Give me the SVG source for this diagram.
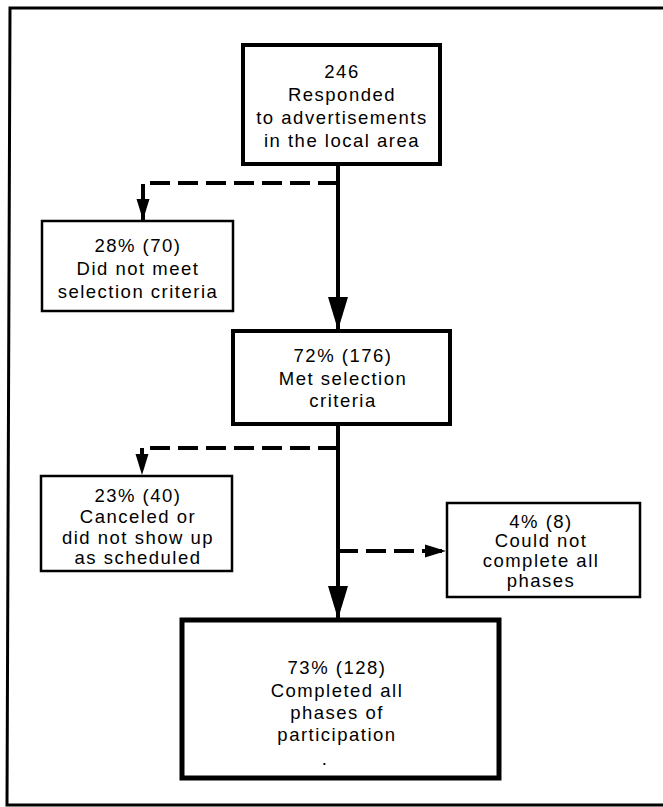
<svg xmlns="http://www.w3.org/2000/svg" width="663" height="807" viewBox="0 0 663 807">
<style>
  .box { fill: #ffffff; stroke: #000000; }
  .thick { stroke-width: 4; }
  .thin { stroke-width: 2.5; }
  .t { font-family: "Liberation Sans", Arial, sans-serif; font-size: 18.5px; letter-spacing: 1.5px; fill: #000000; text-anchor: middle; }
  .main { fill: none; stroke: #000000; stroke-width: 4; }
  .dash { fill: none; stroke: #000000; stroke-width: 4; stroke-dasharray: 20 8; }
  .frame { fill: none; stroke: #000000; stroke-width: 3; }
</style>
<defs>
  <marker id="big" markerUnits="userSpaceOnUse" markerWidth="34" markerHeight="22" refX="33" refY="11" orient="auto">
    <path d="M0,1 L33,11 L0,21 Z" fill="#000000"/>
  </marker>
  <marker id="small" markerUnits="userSpaceOnUse" markerWidth="22" markerHeight="15" refX="21" refY="7.5" orient="auto">
    <path d="M0,1 L21,7.5 L0,14 Z" fill="#000000"/>
  </marker>
</defs>
<rect width="663" height="807" fill="#ffffff"/>
<path class="frame" d="M663,8 L10,8 L7,805 L663,805"/>

<g id="connectors">
  <path class="main" d="M338,164 V330" marker-end="url(#big)"/>
  <path class="main" d="M338,424 V619" marker-end="url(#big)"/>
  <path class="dash" d="M338,183 H143 V220" marker-end="url(#small)"/>
  <path class="dash" d="M338,448 H142 V475" marker-end="url(#small)"/>
  <path class="dash" d="M338,551 H446" marker-end="url(#small)"/>
</g>

<g id="n-responded">
  <rect class="box thick" x="243" y="45" width="197" height="119"/>
  <text class="t" x="342" y="78">246</text>
  <text class="t" x="342" y="101">Responded</text>
  <text class="t" x="342" y="124">to advertisements</text>
  <text class="t" x="342" y="147">in the local area</text>
</g>

<g id="n-notmeet">
  <rect class="box thin" x="42" y="221" width="191" height="90"/>
  <text class="t" x="138" y="252">28% (70)</text>
  <text class="t" x="138" y="275">Did not meet</text>
  <text class="t" x="138" y="298">selection criteria</text>
</g>

<g id="n-met">
  <rect class="box thick" x="233" y="331" width="217" height="93"/>
  <text class="t" x="343" y="362">72% (176)</text>
  <text class="t" x="343" y="385">Met selection</text>
  <text class="t" x="343" y="407">criteria</text>
</g>

<g id="n-canceled">
  <rect class="box thin" x="41" y="476" width="191" height="95"/>
  <text class="t" x="138" y="502">23% (40)</text>
  <text class="t" x="138" y="523">Canceled or</text>
  <text class="t" x="138" y="544">did not show up</text>
  <text class="t" x="138" y="564">as scheduled</text>
</g>

<g id="n-couldnot">
  <rect class="box thin" x="447" y="503" width="193" height="94"/>
  <text class="t" x="541" y="528">4% (8)</text>
  <text class="t" x="541" y="547">Could not</text>
  <text class="t" x="541" y="567">complete all</text>
  <text class="t" x="541" y="587">phases</text>
</g>

<g id="n-completed">
  <rect class="box" stroke-width="5" x="182" y="620" width="317" height="158"/>
  <text class="t" x="337" y="674">73% (128)</text>
  <text class="t" x="337" y="697">Completed all</text>
  <text class="t" x="337" y="719">phases of</text>
  <text class="t" x="337" y="741">participation</text>
  <text class="t" x="325" y="765">.</text>
</g>
</svg>
